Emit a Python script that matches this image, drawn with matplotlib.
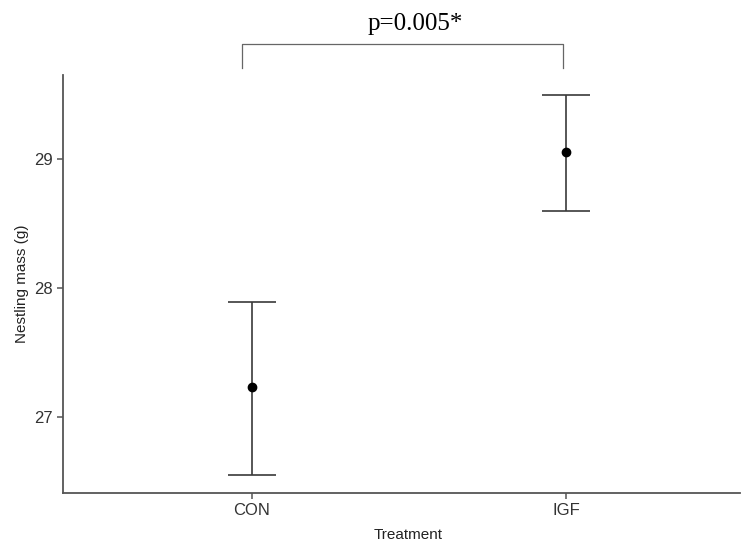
import numpy as np
import matplotlib
matplotlib.use("Agg")
from matplotlib import pyplot as plt

treatments = ["CON", "IGF"]
means = [27.23, 29.06]
upper = [27.89, 29.50]
lower = [26.55, 28.60]
p_label = "p=0.005*"
bracket_x = [0.97, 1.99]

x = np.arange(1, len(treatments) + 1)
err = [np.array(means) - np.array(lower), np.array(upper) - np.array(means)]

plt.rcParams['font.family'] = ['Liberation Sans', 'DejaVu Sans']

fig = plt.figure(figsize=(7.45, 5.44), dpi=100)
ax = fig.add_axes([0.0846, 0.0938, 0.9087, 0.768])

ax.errorbar(x, means, yerr=err, fmt='o', color='black', ms=6,
            ecolor='#3a3a3a', elinewidth=1.2, capsize=17.3, capthick=1.2)

ax.set_xlim(0.399, 2.554)
ax.set_ylim(26.407, 29.655)
ax.set_xticks(x)
ax.set_xticklabels(treatments)
ax.set_yticks([27, 28, 29])

for side in ['top', 'right']:
    ax.spines[side].set_visible(False)
for side in ['left', 'bottom']:
    ax.spines[side].set_color('#555555')
    ax.spines[side].set_linewidth(1.3)
ax.tick_params(colors='#555555', length=4, width=1.1, labelsize=12,
               labelcolor='#333333')

ax.set_xlabel('Treatment', fontsize=11, color='#222222')
ax.xaxis.set_label_coords(0.51, -0.085)
ax.set_ylabel('Nestling mass (g)', fontsize=11, color='#222222')
ax.yaxis.set_label_coords(-0.051, 0.5)

# significance bracket above the plot
trans = ax.get_xaxis_transform()
y_top, y_leg = 1.074, 1.0165
ax.plot([bracket_x[0], bracket_x[0], bracket_x[1], bracket_x[1]],
        [y_leg, y_top, y_top, y_leg], transform=trans,
        color='#666666', lw=0.9, clip_on=False)
ax.text(1.52, 1.108, p_label, transform=trans, ha='center',
        va='baseline', fontsize=18, family=['Liberation Serif', 'DejaVu Serif'])

plt.savefig("out.png", dpi=100)
